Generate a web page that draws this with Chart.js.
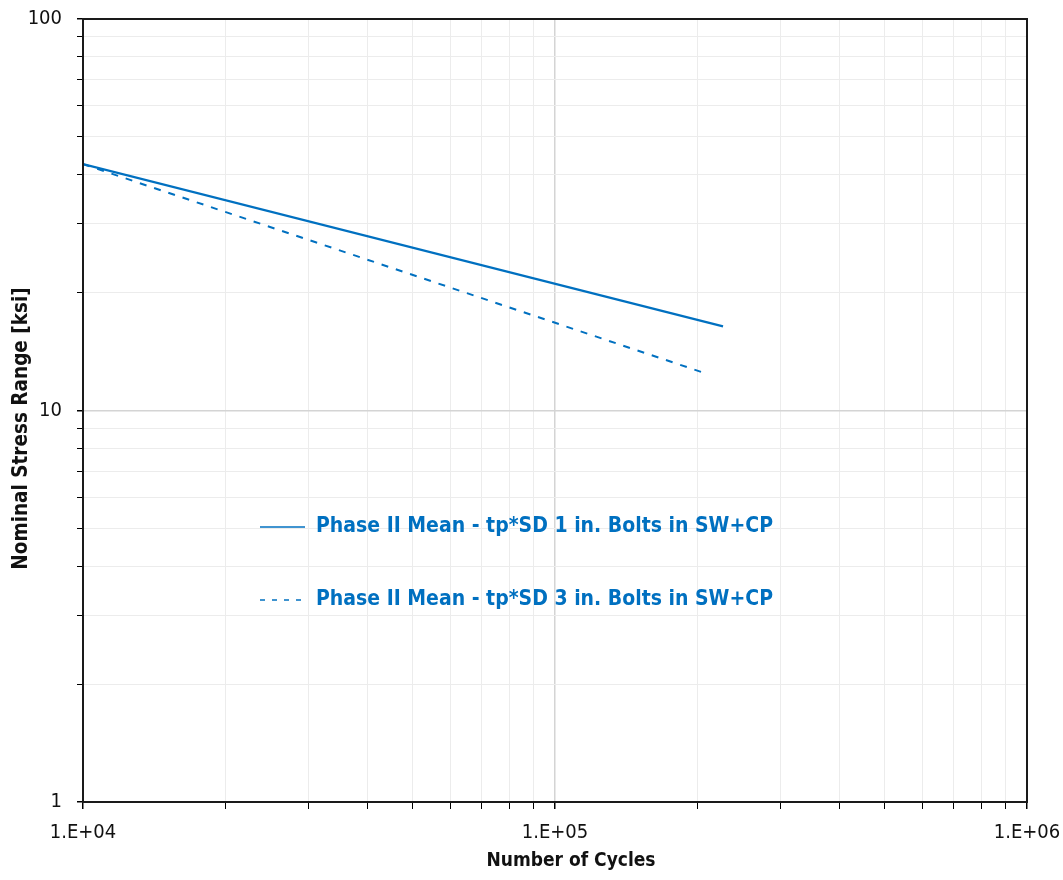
<!DOCTYPE html>
<html>
<head>
<meta charset="utf-8">
<script src="https://cdn.jsdelivr.net/npm/chart.js@4/dist/chart.umd.min.js"></script>
<style>
  html, body { margin: 0; padding: 0; background: #fff; }
  #wrap { width: 1063px; height: 880px; }
</style>
</head>
<body>
<div id="wrap"><canvas id="grafica"></canvas></div>
<script>
// datos
const ciclos1 = [1e4, 2.27e5];
const tension1 = [42.6, 16.4];
const ciclos3 = [1e4, 2.06e5];
const tension3 = [42.6, 12.5];

const etiqueta1 = "Phase II Mean - tp*SD 1 in. Bolts in SW+CP";
const etiqueta3 = "Phase II Mean - tp*SD 3 in. Bolts in SW+CP";

const xTickValores = [1e4, 1e5, 1e6];
const xTickTextos = ["1.E+04", "1.E+05", "1.E+06"];
const yTickValores = [1, 10, 100];
const yTickTextos = ["1", "10", "100"];

const tituloX = "Number of Cycles";
const tituloY = "Nominal Stress Range [ksi]";

const azul = "#0070C0";
const fuente = "'Liberation Sans Narrow', 'DejaVu Sans Condensed', 'Arial Narrow', sans-serif";

const toPoints = (xs, ys) => xs.map((x, i) => ({ x: x, y: ys[i] }));

// ticks 1..9 por decada
const ticksLog = (min, max) => {
  const t = [];
  for (let d = min; d < max; d *= 10) {
    for (let k = 1; k < 10; k++) t.push({ value: d * k });
  }
  t.push({ value: max });
  return t;
};

const esMayor = (v) => {
  const r = v / Math.pow(10, Math.floor(Math.log10(v) + 1e-9));
  return Math.abs(r - 1) < 1e-6;
};

const marco = {
  id: "marco",
  afterDatasetsDraw(chart) {
    const { ctx, chartArea: a } = chart;
    ctx.save();
    ctx.strokeStyle = "#1a1a1a";
    ctx.lineWidth = 2;
    ctx.strokeRect(a.left, a.top, a.right - a.left, a.bottom - a.top);

    // titulos de ejes (un poco corridos como en Excel)
    ctx.fillStyle = "#111";
    ctx.textAlign = "center";
    ctx.textBaseline = "middle";
    ctx.font = "bold 19px " + fuente;
    ctx.fillText(tituloX, (a.left + a.right) / 2 + 16, 861);
    ctx.save();
    ctx.translate(22, (a.top + a.bottom) / 2 + 18);
    ctx.rotate(-Math.PI / 2);
    ctx.font = "bold 20.5px " + fuente;
    ctx.fillText(tituloY, 0, 0);
    ctx.restore();

    // leyenda dentro del grafico
    const filas = [527, 600];
    chart.data.datasets.forEach((ds, i) => {
      const y = filas[i];
      ctx.strokeStyle = ds.borderColor;
      ctx.lineWidth = 1.5;
      ctx.setLineDash(ds.borderDash ? [5, 7] : []);
      ctx.beginPath();
      ctx.moveTo(260, y);
      ctx.lineTo(305, y);
      ctx.stroke();
      ctx.setLineDash([]);
      ctx.fillStyle = azul;
      ctx.font = "bold 21px " + fuente;
      ctx.textBaseline = "middle";
      ctx.textAlign = "left";
      ctx.fillText(ds.label, 316, y);
    });
    ctx.restore();
  }
};

const config = {
  type: "scatter",
  data: {
    datasets: [
      {
        label: etiqueta1,
        data: toPoints(ciclos1, tension1),
        showLine: true,
        borderColor: azul,
        borderWidth: 2.2,
        pointRadius: 0
      },
      {
        label: etiqueta3,
        data: toPoints(ciclos3, tension3),
        showLine: true,
        borderColor: azul,
        borderWidth: 2,
        borderDash: [7, 8],
        pointRadius: 0
      }
    ]
  },
  options: {
    responsive: true,
    maintainAspectRatio: false,
    animation: false,
    layout: { padding: { left: 8, right: 36, top: 19, bottom: 5 } },
    plugins: {
      legend: { display: false },
      tooltip: { enabled: false }
    },
    scales: {
      x: {
        type: "logarithmic",
        min: 1e4,
        max: 1e6,
        afterBuildTicks: (s) => { s.ticks = ticksLog(1e4, 1e6); },
        afterFit: (s) => { s.height = 73; s.paddingLeft = 0; s.paddingRight = 0; },
        grid: {
          color: (c) => (c.tick && esMayor(c.tick.value) ? "#d4d4d4" : "#ececec"),
          lineWidth: (c) => (c.tick && esMayor(c.tick.value) ? 1.5 : 1),
          tickColor: "#000",
          tickLength: 7,
          drawTicks: true
        },
        border: { color: "#1a1a1a", width: 2 },
        ticks: {
          autoSkip: false,
          maxRotation: 0,
          padding: 12,
          color: "#111",
          font: { family: fuente, size: 20 },
          callback: (v) => {
            const i = xTickValores.findIndex((t) => Math.abs(t - v) / t < 1e-6);
            return i >= 0 ? xTickTextos[i] : "";
          }
        },
        title: { display: false }
      },
      y: {
        type: "logarithmic",
        min: 1,
        max: 100,
        afterBuildTicks: (s) => { s.ticks = ticksLog(1, 100); },
        afterFit: (s) => { s.width = 75; s.paddingTop = 0; s.paddingBottom = 0; },
        grid: {
          color: (c) => (c.tick && esMayor(c.tick.value) ? "#d4d4d4" : "#ececec"),
          lineWidth: (c) => (c.tick && esMayor(c.tick.value) ? 1.5 : 1),
          tickColor: "#000",
          tickLength: 6,
          drawTicks: true
        },
        border: { color: "#1a1a1a", width: 2 },
        ticks: {
          autoSkip: false,
          padding: 15,
          color: "#111",
          font: { family: fuente, size: 20 },
          callback: (v) => {
            const i = yTickValores.findIndex((t) => Math.abs(t - v) / t < 1e-6);
            return i >= 0 ? yTickTextos[i] : "";
          }
        },
        title: { display: false }
      }
    }
  },
  plugins: [marco]
};

new Chart(document.getElementById("grafica"), config);
</script>
</body>
</html>
